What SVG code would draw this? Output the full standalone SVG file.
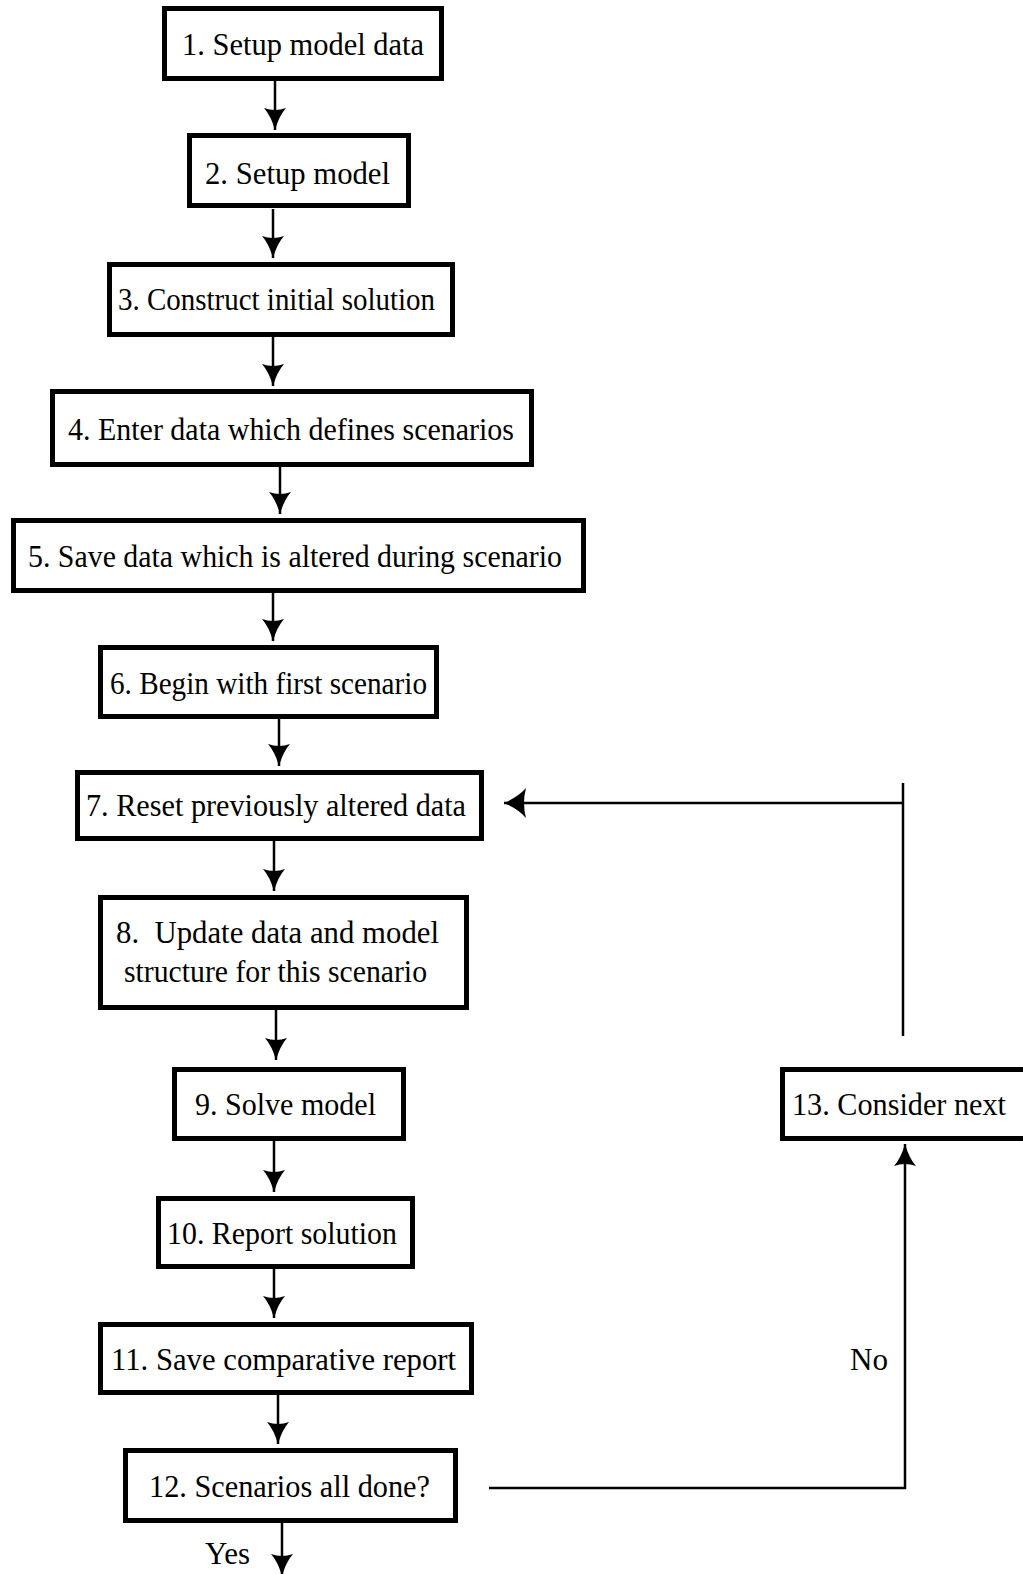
<svg xmlns="http://www.w3.org/2000/svg" width="1023" height="1574" viewBox="0 0 1023 1574">
<style>
.box{fill:#fff;stroke:#000;stroke-width:5}
.t{font-family:"Liberation Serif","Times New Roman",serif;font-size:31px;fill:#000;white-space:pre}
.c{fill:none;stroke:#000;stroke-width:2.5}
</style>
<defs>
<marker id="ah" markerUnits="userSpaceOnUse" markerWidth="24" markerHeight="24" viewBox="0 0 24 24" refX="22" refY="12" orient="auto">
<path d="M0,1 Q8,8 22,12 Q8,16 0,23 Q4,12 0,1 Z" fill="#000"/>
</marker>
<marker id="ah2" markerUnits="userSpaceOnUse" markerWidth="24" markerHeight="32" viewBox="0 0 24 32" refX="22" refY="16" orient="auto">
<path d="M0,1 Q8,10 22,16 Q8,22 0,31 Q4,16 0,1 Z" fill="#000"/>
</marker>
</defs>
<g id="connectors">
<line class="c" x1="275" y1="81" x2="275" y2="130" marker-end="url(#ah)"/>
<line class="c" x1="273" y1="209" x2="273" y2="258" marker-end="url(#ah)"/>
<line class="c" x1="273" y1="337" x2="273" y2="386" marker-end="url(#ah)"/>
<line class="c" x1="280" y1="467" x2="280" y2="514" marker-end="url(#ah)"/>
<line class="c" x1="273" y1="593" x2="273" y2="641" marker-end="url(#ah)"/>
<line class="c" x1="279" y1="719" x2="279" y2="766" marker-end="url(#ah)"/>
<line class="c" x1="274" y1="841" x2="274" y2="891" marker-end="url(#ah)"/>
<line class="c" x1="276" y1="1009" x2="276" y2="1060" marker-end="url(#ah)"/>
<line class="c" x1="274" y1="1141" x2="274" y2="1192" marker-end="url(#ah)"/>
<line class="c" x1="274" y1="1269" x2="274" y2="1318" marker-end="url(#ah)"/>
<line class="c" x1="278" y1="1395" x2="278" y2="1444" marker-end="url(#ah)"/>
<line class="c" x1="282" y1="1523" x2="282" y2="1576" marker-end="url(#ah)"/>
<line class="c" x1="489" y1="1488" x2="906" y2="1488"/>
<line class="c" x1="905" y1="1489" x2="905" y2="1144" marker-end="url(#ah)"/>
<line class="c" x1="903" y1="783" x2="903" y2="1036"/>
<line class="c" x1="904" y1="803" x2="504" y2="803" marker-end="url(#ah2)"/>
</g>
<g id="n1"><rect class="box" x="164.5" y="8.5" width="277" height="70"/><text class="t" x="182" y="55" textLength="242" lengthAdjust="spacingAndGlyphs">1. Setup model data</text></g>
<g id="n2"><rect class="box" x="189.5" y="135.5" width="219" height="70"/><text class="t" x="205" y="184" textLength="185" lengthAdjust="spacingAndGlyphs">2. Setup model</text></g>
<g id="n3"><rect class="box" x="109.5" y="264.5" width="343" height="70"/><text class="t" x="118" y="310" textLength="317" lengthAdjust="spacingAndGlyphs">3. Construct initial solution</text></g>
<g id="n4"><rect class="box" x="52.5" y="391.5" width="479" height="73"/><text class="t" x="68" y="440" textLength="446" lengthAdjust="spacingAndGlyphs">4. Enter data which defines scenarios</text></g>
<g id="n5"><rect class="box" x="13.5" y="520.5" width="570" height="70"/><text class="t" x="28" y="567" textLength="534" lengthAdjust="spacingAndGlyphs">5. Save data which is altered during scenario</text></g>
<g id="n6"><rect class="box" x="100.5" y="647.5" width="336" height="69"/><text class="t" x="110" y="694" textLength="317" lengthAdjust="spacingAndGlyphs">6. Begin with first scenario</text></g>
<g id="n7"><rect class="box" x="77.5" y="772.5" width="404" height="66"/><text class="t" x="86" y="816" textLength="380" lengthAdjust="spacingAndGlyphs">7. Reset previously altered data</text></g>
<g id="n8"><rect class="box" x="100.5" y="897.5" width="366" height="110"/><text class="t" x="116" y="943" textLength="323" lengthAdjust="spacingAndGlyphs" xml:space="preserve">8.  Update data and model</text><text class="t" x="124" y="982" textLength="303" lengthAdjust="spacingAndGlyphs">structure for this scenario</text></g>
<g id="n9"><rect class="box" x="174.5" y="1069.5" width="229" height="69"/><text class="t" x="195" y="1115" textLength="181" lengthAdjust="spacingAndGlyphs">9. Solve model</text></g>
<g id="n10"><rect class="box" x="158.5" y="1198.5" width="254" height="68"/><text class="t" x="167" y="1244" textLength="230" lengthAdjust="spacingAndGlyphs">10. Report solution</text></g>
<g id="n11"><rect class="box" x="100.5" y="1324.5" width="371" height="68"/><text class="t" x="111" y="1370" textLength="345" lengthAdjust="spacingAndGlyphs">11. Save comparative report</text></g>
<g id="n12"><rect class="box" x="125.5" y="1450.5" width="330" height="70"/><text class="t" x="149" y="1497" textLength="281" lengthAdjust="spacingAndGlyphs">12. Scenarios all done?</text></g>
<g id="n13"><rect class="box" x="782.5" y="1069.5" width="260" height="69"/><text class="t" x="792" y="1115" textLength="214" lengthAdjust="spacingAndGlyphs">13. Consider next</text></g>
<g id="labels"><text class="t" x="850" y="1370" textLength="38" lengthAdjust="spacingAndGlyphs">No</text><text class="t" x="205" y="1564" textLength="45" lengthAdjust="spacingAndGlyphs">Yes</text></g>
</svg>
